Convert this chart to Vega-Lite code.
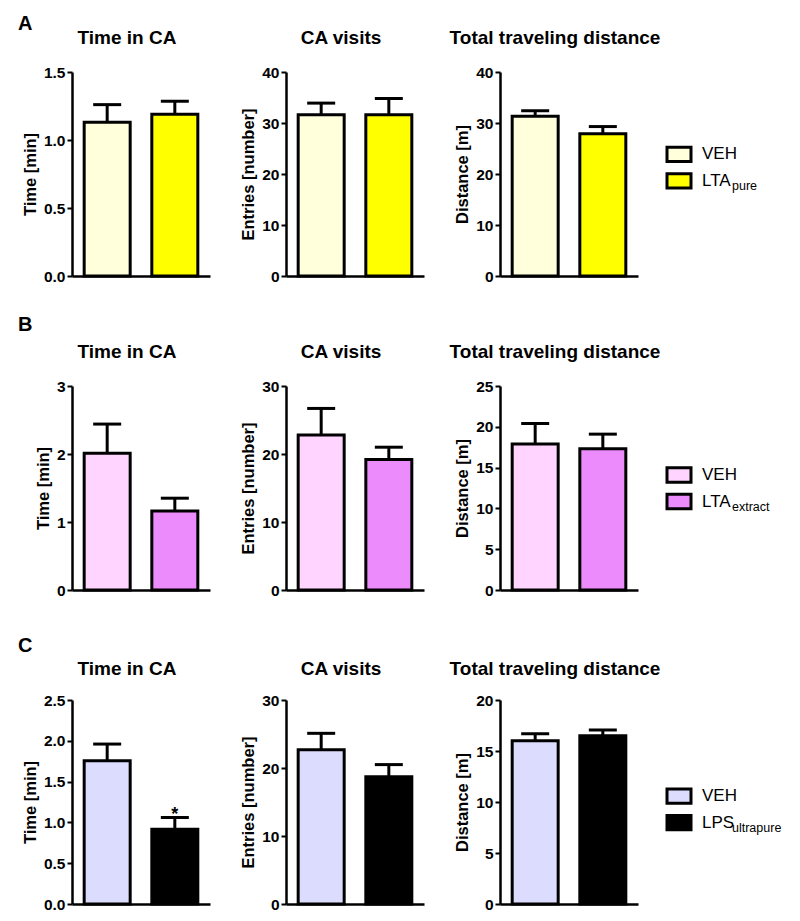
{
  "$schema": "https://vega.github.io/schema/vega-lite/v6.json",
  "autosize": {"type": "pad"},
  "padding": {"left": 18, "top": 14, "right": 0, "bottom": 0},
  "background": "white",
  "config": {
    "view": {"stroke": null},
    "font": "Liberation Sans",
    "axis": {"domainColor": "black", "domainWidth": 2.5, "tickColor": "black", "tickWidth": 2, "tickSize": 5, "labelColor": "black", "labelFontSize": 15.5, "labelFontWeight": "bold", "labelPadding": 2, "titleColor": "black", "titleFontSize": 16.5, "titleFontWeight": "bold", "titlePadding": 5, "grid": false},
    "title": {"fontSize": 19, "fontWeight": "bold", "color": "black", "baseline": "alphabetic"}
  },
  "datasets": {
    "bars": [
      {"row": "A", "measure": "time", "group": "VEH", "mean": 1.13, "upper": 1.26, "star": ""},
      {"row": "A", "measure": "time", "group": "LTApure", "mean": 1.19, "upper": 1.285, "star": ""},
      {"row": "A", "measure": "visits", "group": "VEH", "mean": 31.6, "upper": 33.9, "star": ""},
      {"row": "A", "measure": "visits", "group": "LTApure", "mean": 31.6, "upper": 34.8, "star": ""},
      {"row": "A", "measure": "dist", "group": "VEH", "mean": 31.3, "upper": 32.4, "star": ""},
      {"row": "A", "measure": "dist", "group": "LTApure", "mean": 27.9, "upper": 29.3, "star": ""},
      {"row": "B", "measure": "time", "group": "VEH", "mean": 2.01, "upper": 2.44, "star": ""},
      {"row": "B", "measure": "time", "group": "LTAextract", "mean": 1.16, "upper": 1.35, "star": ""},
      {"row": "B", "measure": "visits", "group": "VEH", "mean": 22.8, "upper": 26.7, "star": ""},
      {"row": "B", "measure": "visits", "group": "LTAextract", "mean": 19.2, "upper": 21.0, "star": ""},
      {"row": "B", "measure": "dist", "group": "VEH", "mean": 17.9, "upper": 20.4, "star": ""},
      {"row": "B", "measure": "dist", "group": "LTAextract", "mean": 17.3, "upper": 19.1, "star": ""},
      {"row": "C", "measure": "time", "group": "VEH", "mean": 1.756, "upper": 1.96, "star": ""},
      {"row": "C", "measure": "time", "group": "LPSultrapure", "mean": 0.915, "upper": 1.06, "star": "*"},
      {"row": "C", "measure": "visits", "group": "VEH", "mean": 22.7, "upper": 25.1, "star": ""},
      {"row": "C", "measure": "visits", "group": "LPSultrapure", "mean": 18.7, "upper": 20.5, "star": ""},
      {"row": "C", "measure": "dist", "group": "VEH", "mean": 16.0, "upper": 16.7, "star": ""},
      {"row": "C", "measure": "dist", "group": "LPSultrapure", "mean": 16.5, "upper": 17.06, "star": ""}
    ],
    "legend": [
      {"row": "A", "order": 1, "group": "VEH", "name": "VEH", "sub": ""},
      {"row": "A", "order": 2, "group": "LTApure", "name": "LTA", "sub": "pure"},
      {"row": "B", "order": 1, "group": "VEH", "name": "VEH", "sub": ""},
      {"row": "B", "order": 2, "group": "LTAextract", "name": "LTA", "sub": "extract"},
      {"row": "C", "order": 1, "group": "VEH", "name": "VEH", "sub": ""},
      {"row": "C", "order": 2, "group": "LPSultrapure", "name": "LPS", "sub": "ultrapure"}
    ]
  },
  "resolve": {"scale": {"fill": "independent"}},
  "bounds": "flush",
  "columns": 7,
  "spacing": {"row": 110, "column": 29},
  "concat": [
    {"width": 25, "height": 204, "data": {"values": []}, "mark": "point", "encoding": {}, "title": {"text": "A", "anchor": "start", "frame": "group", "fontSize": 20, "offset": 38}},
    {
      "width": 138, "height": 204, "data": {"name": "bars"},
      "title": {"text": "Time in CA", "frame": "group", "anchor": "middle", "dx": -14, "offset": 17},
      "transform": [{"filter": "datum.row === 'A' && datum.measure === 'time'"}],
      "encoding": {
        "x": {"field": "group", "type": "nominal", "sort": ["VEH", "LTApure"], "scale": {"paddingInner": 0.32, "paddingOuter": 0.18}, "axis": {"title": null, "labels": false, "ticks": false}},
        "y": {"field": "mean", "type": "quantitative", "scale": {"domain": [0, 1.5], "nice": false}, "axis": {"title": "Time [min]", "values": [0, 0.5, 1, 1.5], "format": ".1f"}}
      },
      "layer": [
        {"mark": {"type": "rule", "color": "black", "strokeWidth": 3}, "encoding": {"y2": {"field": "upper"}}},
        {"mark": {"type": "bar", "stroke": "black", "strokeWidth": 3}, "encoding": {"fill": {"field": "group", "type": "nominal", "scale": {"domain": ["VEH", "LTApure"], "range": ["#FFFFDC", "#FFFF00"]}, "legend": null}}},
        {"mark": {"type": "tick", "color": "black", "size": 28, "thickness": 3, "opacity": 1}, "encoding": {"y": {"field": "upper", "type": "quantitative", "title": "Time [min]"}}}
      ]
    },
    {"width": 18, "height": 204, "data": {"values": []}, "mark": "point", "encoding": {}},
    {
      "width": 138, "height": 204, "data": {"name": "bars"},
      "title": {"text": "CA visits", "frame": "group", "anchor": "middle", "dx": -14, "offset": 17},
      "transform": [{"filter": "datum.row === 'A' && datum.measure === 'visits'"}],
      "encoding": {
        "x": {"field": "group", "type": "nominal", "sort": ["VEH", "LTApure"], "scale": {"paddingInner": 0.32, "paddingOuter": 0.18}, "axis": {"title": null, "labels": false, "ticks": false}},
        "y": {"field": "mean", "type": "quantitative", "scale": {"domain": [0, 40], "nice": false}, "axis": {"title": "Entries [number]", "values": [0, 10, 20, 30, 40]}}
      },
      "layer": [
        {"mark": {"type": "rule", "color": "black", "strokeWidth": 3}, "encoding": {"y2": {"field": "upper"}}},
        {"mark": {"type": "bar", "stroke": "black", "strokeWidth": 3}, "encoding": {"fill": {"field": "group", "type": "nominal", "scale": {"domain": ["VEH", "LTApure"], "range": ["#FFFFDC", "#FFFF00"]}, "legend": null}}},
        {"mark": {"type": "tick", "color": "black", "size": 28, "thickness": 3, "opacity": 1}, "encoding": {"y": {"field": "upper", "type": "quantitative", "title": "Entries [number]"}}}
      ]
    },
    {"width": 18, "height": 204, "data": {"values": []}, "mark": "point", "encoding": {}},
    {
      "width": 138, "height": 204, "data": {"name": "bars"},
      "title": {"text": "Total traveling distance", "frame": "group", "anchor": "middle", "dx": -14, "offset": 17},
      "transform": [{"filter": "datum.row === 'A' && datum.measure === 'dist'"}],
      "encoding": {
        "x": {"field": "group", "type": "nominal", "sort": ["VEH", "LTApure"], "scale": {"paddingInner": 0.32, "paddingOuter": 0.18}, "axis": {"title": null, "labels": false, "ticks": false}},
        "y": {"field": "mean", "type": "quantitative", "scale": {"domain": [0, 40], "nice": false}, "axis": {"title": "Distance [m]", "values": [0, 10, 20, 30, 40]}}
      },
      "layer": [
        {"mark": {"type": "rule", "color": "black", "strokeWidth": 3}, "encoding": {"y2": {"field": "upper"}}},
        {"mark": {"type": "bar", "stroke": "black", "strokeWidth": 3}, "encoding": {"fill": {"field": "group", "type": "nominal", "scale": {"domain": ["VEH", "LTApure"], "range": ["#FFFFDC", "#FFFF00"]}, "legend": null}}},
        {"mark": {"type": "tick", "color": "black", "size": 28, "thickness": 3, "opacity": 1}, "encoding": {"y": {"field": "upper", "type": "quantitative", "title": "Distance [m]"}}}
      ]
    },
    {
      "width": 24, "height": 204, "data": {"name": "legend"},
      "transform": [{"filter": "datum.row === 'A'"}],
      "encoding": {"y": {"field": "order", "type": "quantitative", "scale": {"domain": [-2.11, 5.59], "nice": false, "zero": false, "reverse": true}, "axis": null}},
      "layer": [
        {"mark": {"type": "point", "shape": "M-1,-0.6H1V0.6H-1Z", "filled": true, "stroke": "black", "strokeWidth": 3, "size": 576, "opacity": 1}, "encoding": {"fill": {"field": "group", "type": "nominal", "scale": {"domain": ["VEH", "LTApure"], "range": ["#FFFFDC", "#FFFF00"]}, "legend": null}}},
        {"mark": {"type": "text", "align": "left", "baseline": "middle", "dx": 23, "fontSize": 17, "color": "black"}, "encoding": {"text": {"field": "name"}}},
        {"mark": {"type": "text", "align": "left", "baseline": "middle", "dx": 53, "dy": 5, "fontSize": 12.5, "color": "black"}, "encoding": {"text": {"field": "sub"}}}
      ]
    },

    {"width": 25, "height": 204, "data": {"values": []}, "mark": "point", "encoding": {}, "title": {"text": "B", "anchor": "start", "frame": "group", "fontSize": 20, "offset": 51}},
    {
      "width": 138, "height": 204, "data": {"name": "bars"},
      "title": {"text": "Time in CA", "frame": "group", "anchor": "middle", "dx": -14, "offset": 17},
      "transform": [{"filter": "datum.row === 'B' && datum.measure === 'time'"}],
      "encoding": {
        "x": {"field": "group", "type": "nominal", "sort": ["VEH", "LTAextract"], "scale": {"paddingInner": 0.32, "paddingOuter": 0.18}, "axis": {"title": null, "labels": false, "ticks": false}},
        "y": {"field": "mean", "type": "quantitative", "scale": {"domain": [0, 3], "nice": false}, "axis": {"title": "Time [min]", "values": [0, 1, 2, 3]}}
      },
      "layer": [
        {"mark": {"type": "rule", "color": "black", "strokeWidth": 3}, "encoding": {"y2": {"field": "upper"}}},
        {"mark": {"type": "bar", "stroke": "black", "strokeWidth": 3}, "encoding": {"fill": {"field": "group", "type": "nominal", "scale": {"domain": ["VEH", "LTAextract"], "range": ["#FFD5FF", "#EC8BFB"]}, "legend": null}}},
        {"mark": {"type": "tick", "color": "black", "size": 28, "thickness": 3, "opacity": 1}, "encoding": {"y": {"field": "upper", "type": "quantitative", "title": "Time [min]"}}}
      ]
    },
    {"width": 18, "height": 204, "data": {"values": []}, "mark": "point", "encoding": {}},
    {
      "width": 138, "height": 204, "data": {"name": "bars"},
      "title": {"text": "CA visits", "frame": "group", "anchor": "middle", "dx": -14, "offset": 17},
      "transform": [{"filter": "datum.row === 'B' && datum.measure === 'visits'"}],
      "encoding": {
        "x": {"field": "group", "type": "nominal", "sort": ["VEH", "LTAextract"], "scale": {"paddingInner": 0.32, "paddingOuter": 0.18}, "axis": {"title": null, "labels": false, "ticks": false}},
        "y": {"field": "mean", "type": "quantitative", "scale": {"domain": [0, 30], "nice": false}, "axis": {"title": "Entries [number]", "values": [0, 10, 20, 30]}}
      },
      "layer": [
        {"mark": {"type": "rule", "color": "black", "strokeWidth": 3}, "encoding": {"y2": {"field": "upper"}}},
        {"mark": {"type": "bar", "stroke": "black", "strokeWidth": 3}, "encoding": {"fill": {"field": "group", "type": "nominal", "scale": {"domain": ["VEH", "LTAextract"], "range": ["#FFD5FF", "#EC8BFB"]}, "legend": null}}},
        {"mark": {"type": "tick", "color": "black", "size": 28, "thickness": 3, "opacity": 1}, "encoding": {"y": {"field": "upper", "type": "quantitative", "title": "Entries [number]"}}}
      ]
    },
    {"width": 18, "height": 204, "data": {"values": []}, "mark": "point", "encoding": {}},
    {
      "width": 138, "height": 204, "data": {"name": "bars"},
      "title": {"text": "Total traveling distance", "frame": "group", "anchor": "middle", "dx": -14, "offset": 17},
      "transform": [{"filter": "datum.row === 'B' && datum.measure === 'dist'"}],
      "encoding": {
        "x": {"field": "group", "type": "nominal", "sort": ["VEH", "LTAextract"], "scale": {"paddingInner": 0.32, "paddingOuter": 0.18}, "axis": {"title": null, "labels": false, "ticks": false}},
        "y": {"field": "mean", "type": "quantitative", "scale": {"domain": [0, 25], "nice": false}, "axis": {"title": "Distance [m]", "values": [0, 5, 10, 15, 20, 25]}}
      },
      "layer": [
        {"mark": {"type": "rule", "color": "black", "strokeWidth": 3}, "encoding": {"y2": {"field": "upper"}}},
        {"mark": {"type": "bar", "stroke": "black", "strokeWidth": 3}, "encoding": {"fill": {"field": "group", "type": "nominal", "scale": {"domain": ["VEH", "LTAextract"], "range": ["#FFD5FF", "#EC8BFB"]}, "legend": null}}},
        {"mark": {"type": "tick", "color": "black", "size": 28, "thickness": 3, "opacity": 1}, "encoding": {"y": {"field": "upper", "type": "quantitative", "title": "Distance [m]"}}}
      ]
    },
    {
      "width": 24, "height": 204, "data": {"name": "legend"},
      "transform": [{"filter": "datum.row === 'B'"}],
      "encoding": {"y": {"field": "order", "type": "quantitative", "scale": {"domain": [-2.36, 5.34], "nice": false, "zero": false, "reverse": true}, "axis": null}},
      "layer": [
        {"mark": {"type": "point", "shape": "M-1,-0.6H1V0.6H-1Z", "filled": true, "stroke": "black", "strokeWidth": 3, "size": 576, "opacity": 1}, "encoding": {"fill": {"field": "group", "type": "nominal", "scale": {"domain": ["VEH", "LTAextract"], "range": ["#FFD5FF", "#EC8BFB"]}, "legend": null}}},
        {"mark": {"type": "text", "align": "left", "baseline": "middle", "dx": 23, "fontSize": 17, "color": "black"}, "encoding": {"text": {"field": "name"}}},
        {"mark": {"type": "text", "align": "left", "baseline": "middle", "dx": 53, "dy": 5, "fontSize": 12.5, "color": "black"}, "encoding": {"text": {"field": "sub"}}}
      ]
    },

    {"width": 25, "height": 204, "data": {"values": []}, "mark": "point", "encoding": {}, "title": {"text": "C", "anchor": "start", "frame": "group", "fontSize": 20, "offset": 44}},
    {
      "width": 138, "height": 204, "data": {"name": "bars"},
      "title": {"text": "Time in CA", "frame": "group", "anchor": "middle", "dx": -14, "offset": 14},
      "transform": [{"filter": "datum.row === 'C' && datum.measure === 'time'"}],
      "encoding": {
        "x": {"field": "group", "type": "nominal", "sort": ["VEH", "LPSultrapure"], "scale": {"paddingInner": 0.32, "paddingOuter": 0.18}, "axis": {"title": null, "labels": false, "ticks": false}},
        "y": {"field": "mean", "type": "quantitative", "scale": {"domain": [0, 2.5], "nice": false}, "axis": {"title": "Time [min]", "values": [0, 0.5, 1, 1.5, 2, 2.5], "format": ".1f"}}
      },
      "layer": [
        {"mark": {"type": "rule", "color": "black", "strokeWidth": 3}, "encoding": {"y2": {"field": "upper"}}},
        {"mark": {"type": "bar", "stroke": "black", "strokeWidth": 3}, "encoding": {"fill": {"field": "group", "type": "nominal", "scale": {"domain": ["VEH", "LPSultrapure"], "range": ["#DCDCFF", "#000000"]}, "legend": null}}},
        {"mark": {"type": "tick", "color": "black", "size": 28, "thickness": 3, "opacity": 1}, "encoding": {"y": {"field": "upper", "type": "quantitative", "title": "Time [min]"}}},
        {"mark": {"type": "text", "baseline": "alphabetic", "dy": 2, "fontSize": 18, "fontWeight": "bold", "color": "black"}, "encoding": {"y": {"field": "upper", "type": "quantitative", "title": "Time [min]"}, "text": {"field": "star"}}}
      ]
    },
    {"width": 18, "height": 204, "data": {"values": []}, "mark": "point", "encoding": {}},
    {
      "width": 138, "height": 204, "data": {"name": "bars"},
      "title": {"text": "CA visits", "frame": "group", "anchor": "middle", "dx": -14, "offset": 14},
      "transform": [{"filter": "datum.row === 'C' && datum.measure === 'visits'"}],
      "encoding": {
        "x": {"field": "group", "type": "nominal", "sort": ["VEH", "LPSultrapure"], "scale": {"paddingInner": 0.32, "paddingOuter": 0.18}, "axis": {"title": null, "labels": false, "ticks": false}},
        "y": {"field": "mean", "type": "quantitative", "scale": {"domain": [0, 30], "nice": false}, "axis": {"title": "Entries [number]", "values": [0, 10, 20, 30]}}
      },
      "layer": [
        {"mark": {"type": "rule", "color": "black", "strokeWidth": 3}, "encoding": {"y2": {"field": "upper"}}},
        {"mark": {"type": "bar", "stroke": "black", "strokeWidth": 3}, "encoding": {"fill": {"field": "group", "type": "nominal", "scale": {"domain": ["VEH", "LPSultrapure"], "range": ["#DCDCFF", "#000000"]}, "legend": null}}},
        {"mark": {"type": "tick", "color": "black", "size": 28, "thickness": 3, "opacity": 1}, "encoding": {"y": {"field": "upper", "type": "quantitative", "title": "Entries [number]"}}}
      ]
    },
    {"width": 18, "height": 204, "data": {"values": []}, "mark": "point", "encoding": {}},
    {
      "width": 138, "height": 204, "data": {"name": "bars"},
      "title": {"text": "Total traveling distance", "frame": "group", "anchor": "middle", "dx": -14, "offset": 14},
      "transform": [{"filter": "datum.row === 'C' && datum.measure === 'dist'"}],
      "encoding": {
        "x": {"field": "group", "type": "nominal", "sort": ["VEH", "LPSultrapure"], "scale": {"paddingInner": 0.32, "paddingOuter": 0.18}, "axis": {"title": null, "labels": false, "ticks": false}},
        "y": {"field": "mean", "type": "quantitative", "scale": {"domain": [0, 20], "nice": false}, "axis": {"title": "Distance [m]", "values": [0, 5, 10, 15, 20]}}
      },
      "layer": [
        {"mark": {"type": "rule", "color": "black", "strokeWidth": 3}, "encoding": {"y2": {"field": "upper"}}},
        {"mark": {"type": "bar", "stroke": "black", "strokeWidth": 3}, "encoding": {"fill": {"field": "group", "type": "nominal", "scale": {"domain": ["VEH", "LPSultrapure"], "range": ["#DCDCFF", "#000000"]}, "legend": null}}},
        {"mark": {"type": "tick", "color": "black", "size": 28, "thickness": 3, "opacity": 1}, "encoding": {"y": {"field": "upper", "type": "quantitative", "title": "Distance [m]"}}}
      ]
    },
    {
      "width": 24, "height": 204, "data": {"name": "legend"},
      "transform": [{"filter": "datum.row === 'C'"}],
      "encoding": {"y": {"field": "order", "type": "quantitative", "scale": {"domain": [-2.63, 5.07], "nice": false, "zero": false, "reverse": true}, "axis": null}},
      "layer": [
        {"mark": {"type": "point", "shape": "M-1,-0.6H1V0.6H-1Z", "filled": true, "stroke": "black", "strokeWidth": 3, "size": 576, "opacity": 1}, "encoding": {"fill": {"field": "group", "type": "nominal", "scale": {"domain": ["VEH", "LPSultrapure"], "range": ["#DCDCFF", "#000000"]}, "legend": null}}},
        {"mark": {"type": "text", "align": "left", "baseline": "middle", "dx": 23, "fontSize": 17, "color": "black"}, "encoding": {"text": {"field": "name"}}},
        {"mark": {"type": "text", "align": "left", "baseline": "middle", "dx": 53, "dy": 5, "fontSize": 12.5, "color": "black"}, "encoding": {"text": {"field": "sub"}}}
      ]
    }
  ]
}
